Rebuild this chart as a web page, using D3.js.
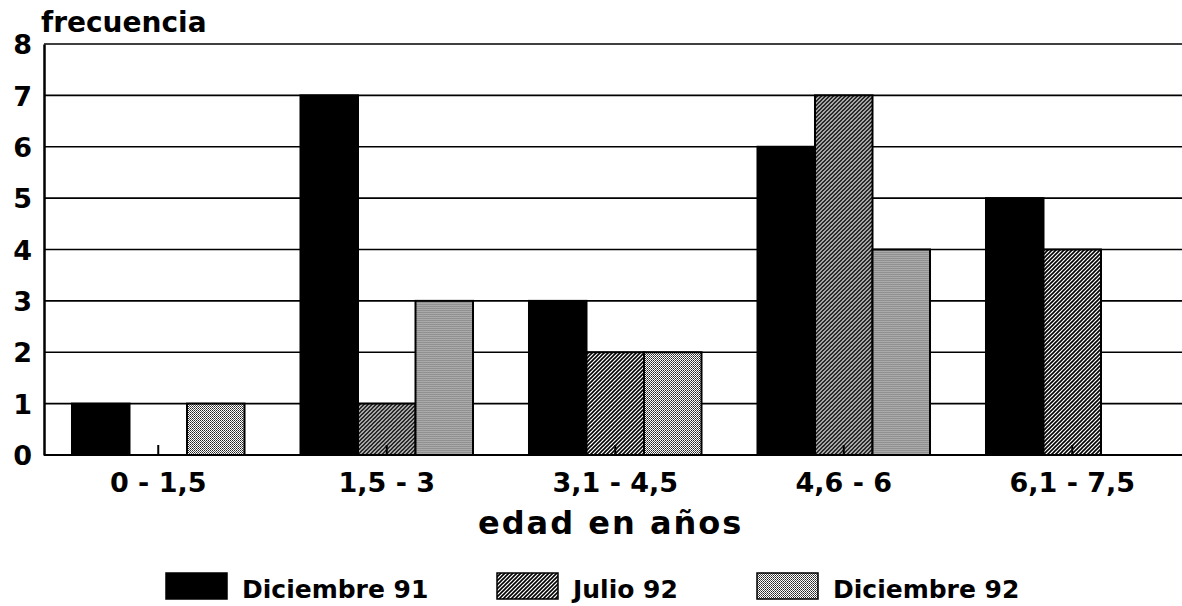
<!DOCTYPE html>
<html>
<head>
<meta charset="utf-8">
<script src="https://cdn.jsdelivr.net/npm/d3@7"></script>
<style>
    body { margin: 0; background: #fff; }
    svg { display: block; }
    .tick-y { font-family: "DejaVu Sans", sans-serif; font-weight: bold; font-size: 27px; }
    .tick-x { font-family: "DejaVu Sans", sans-serif; font-weight: bold; font-size: 27px; }
    .lbl { font-family: "DejaVu Sans", sans-serif; font-weight: bold; }
    .leg { font-family: "DejaVu Sans", sans-serif; font-weight: bold; font-size: 25px; }
</style>
</head>
<body>
<div id="chart"></div>
<script>
// data
const groups = ["0 - 1,5", "1,5 - 3", "3,1 - 4,5", "4,6 - 6", "6,1 - 7,5"];
const series = ["Diciembre 91", "Julio 92", "Diciembre 92"];
const dic91 = [1, 7, 3, 6, 5];
const jul92 = [0, 1, 2, 7, 4];
const dic92 = [1, 3, 2, 4, 0];
const yTicks = [0, 1, 2, 3, 4, 5, 6, 7, 8];

const values = [dic91, jul92, dic92];

let width = 1182, height = 606;
let plot = {left: 44, top: 44, bottom: 455, right: 1186.5};

let svg = d3.select("#chart").append("svg")
    .attr("width", width)
    .attr("height", height);

// fills: solid, hatch, dots
let defs = svg.append("defs");
let hatch = defs.append("pattern")
    .attr("id", "hatch")
    .attr("patternUnits", "userSpaceOnUse")
    .attr("width", 4).attr("height", 4);
hatch.append("rect").attr("width", 4).attr("height", 4).attr("fill", "#fff");
hatch.append("path")
    .attr("d", "M-1,1 l2,-2 M0,4 l4,-4 M3,5 l2,-2")
    .attr("stroke", "#000")
    .attr("stroke-width", 1.6);

let dots = defs.append("pattern")
    .attr("id", "dots")
    .attr("patternUnits", "userSpaceOnUse")
    .attr("width", 2).attr("height", 2);
dots.append("rect").attr("width", 2).attr("height", 2).attr("fill", "#fff");
dots.append("rect").attr("width", 1).attr("height", 1).attr("fill", "#222");
dots.append("rect").attr("x", 1).attr("y", 1).attr("width", 1).attr("height", 1).attr("fill", "#555");

let fills = ["#000", "url(#hatch)", "url(#dots)"];

// scales
let x = d3.scaleBand()
    .domain(groups)
    .range([plot.left, plot.right])
    .paddingInner(0.245)
    .paddingOuter(0.1225);

let xs = d3.scaleBand()
    .domain(series)
    .range([0, x.bandwidth()]);

let y = d3.scaleLinear()
    .domain([0, 8])
    .range([plot.bottom, plot.top]);

// grid lines
svg.append("g")
    .selectAll("line")
    .data(yTicks)
    .enter().append("line")
    .attr("x1", plot.left)
    .attr("x2", width)
    .attr("y1", d => y(d))
    .attr("y2", d => y(d))
    .attr("stroke", "#000")
    .attr("stroke-width", d => d == 0 ? 2.2 : 1.6);

// bars
let grp = svg.append("g")
    .selectAll("g")
    .data(groups)
    .enter().append("g")
    .attr("transform", d => "translate(" + x(d) + ",0)");

grp.selectAll("rect")
    .data((g, gi) => series.map((s, si) => ({s: s, si: si, v: values[si][gi]})))
    .enter().append("rect")
    .filter(d => d.v > 0)
    .attr("x", d => xs(d.s))
    .attr("width", xs.bandwidth())
    .attr("y", d => y(d.v))
    .attr("height", d => y(0) - y(d.v))
    .attr("fill", d => fills[d.si])
    .attr("stroke", "#000")
    .attr("stroke-width", 2);

// x axis: short inward ticks at group centres, labels below
let xAxis = d3.axisBottom(x).tickSizeInner(-10).tickSizeOuter(0).tickPadding(18);
let gx = svg.append("g")
    .attr("transform", "translate(0," + plot.bottom + ")")
    .call(xAxis);
gx.select(".domain").remove();
gx.selectAll(".tick line").attr("stroke", "#000").attr("stroke-width", 2);
gx.selectAll(".tick text")
    .attr("class", "tick-x")
    .attr("fill", "#000")
    .attr("dy", "0.71em");

// y axis
let yAxis = d3.axisLeft(y).tickValues(yTicks).tickSize(0).tickPadding(12).tickFormat(d3.format("d"));
let gy = svg.append("g")
    .attr("transform", "translate(" + plot.left + ",0)")
    .call(yAxis);
gy.select(".domain").attr("stroke", "#000").attr("stroke-width", 2.5);
gy.selectAll(".tick text").attr("class", "tick-y").attr("fill", "#000").attr("dy", "0.36em");

// titles
svg.append("text")
    .attr("class", "lbl")
    .attr("x", 41).attr("y", 32)
    .style("font-size", "28px")
    .text("frecuencia");

svg.append("text")
    .attr("class", "lbl")
    .attr("x", 478).attr("y", 534)
    .style("font-size", "32px")
    .style("letter-spacing", "2px")
    .text("edad en años");

// legend
let legX = [166, 497, 757];
let leg = svg.append("g")
    .selectAll("g")
    .data(series)
    .enter().append("g")
    .attr("transform", (d, i) => "translate(" + legX[i] + ",573)");

leg.append("rect")
    .attr("width", 61)
    .attr("height", 26)
    .attr("fill", (d, i) => fills[i])
    .attr("stroke", "#000")
    .attr("stroke-width", 1.5);

leg.append("text")
    .attr("class", "leg")
    .attr("x", 76)
    .attr("y", 25)
    .text(d => d);
</script>
</body>
</html>
